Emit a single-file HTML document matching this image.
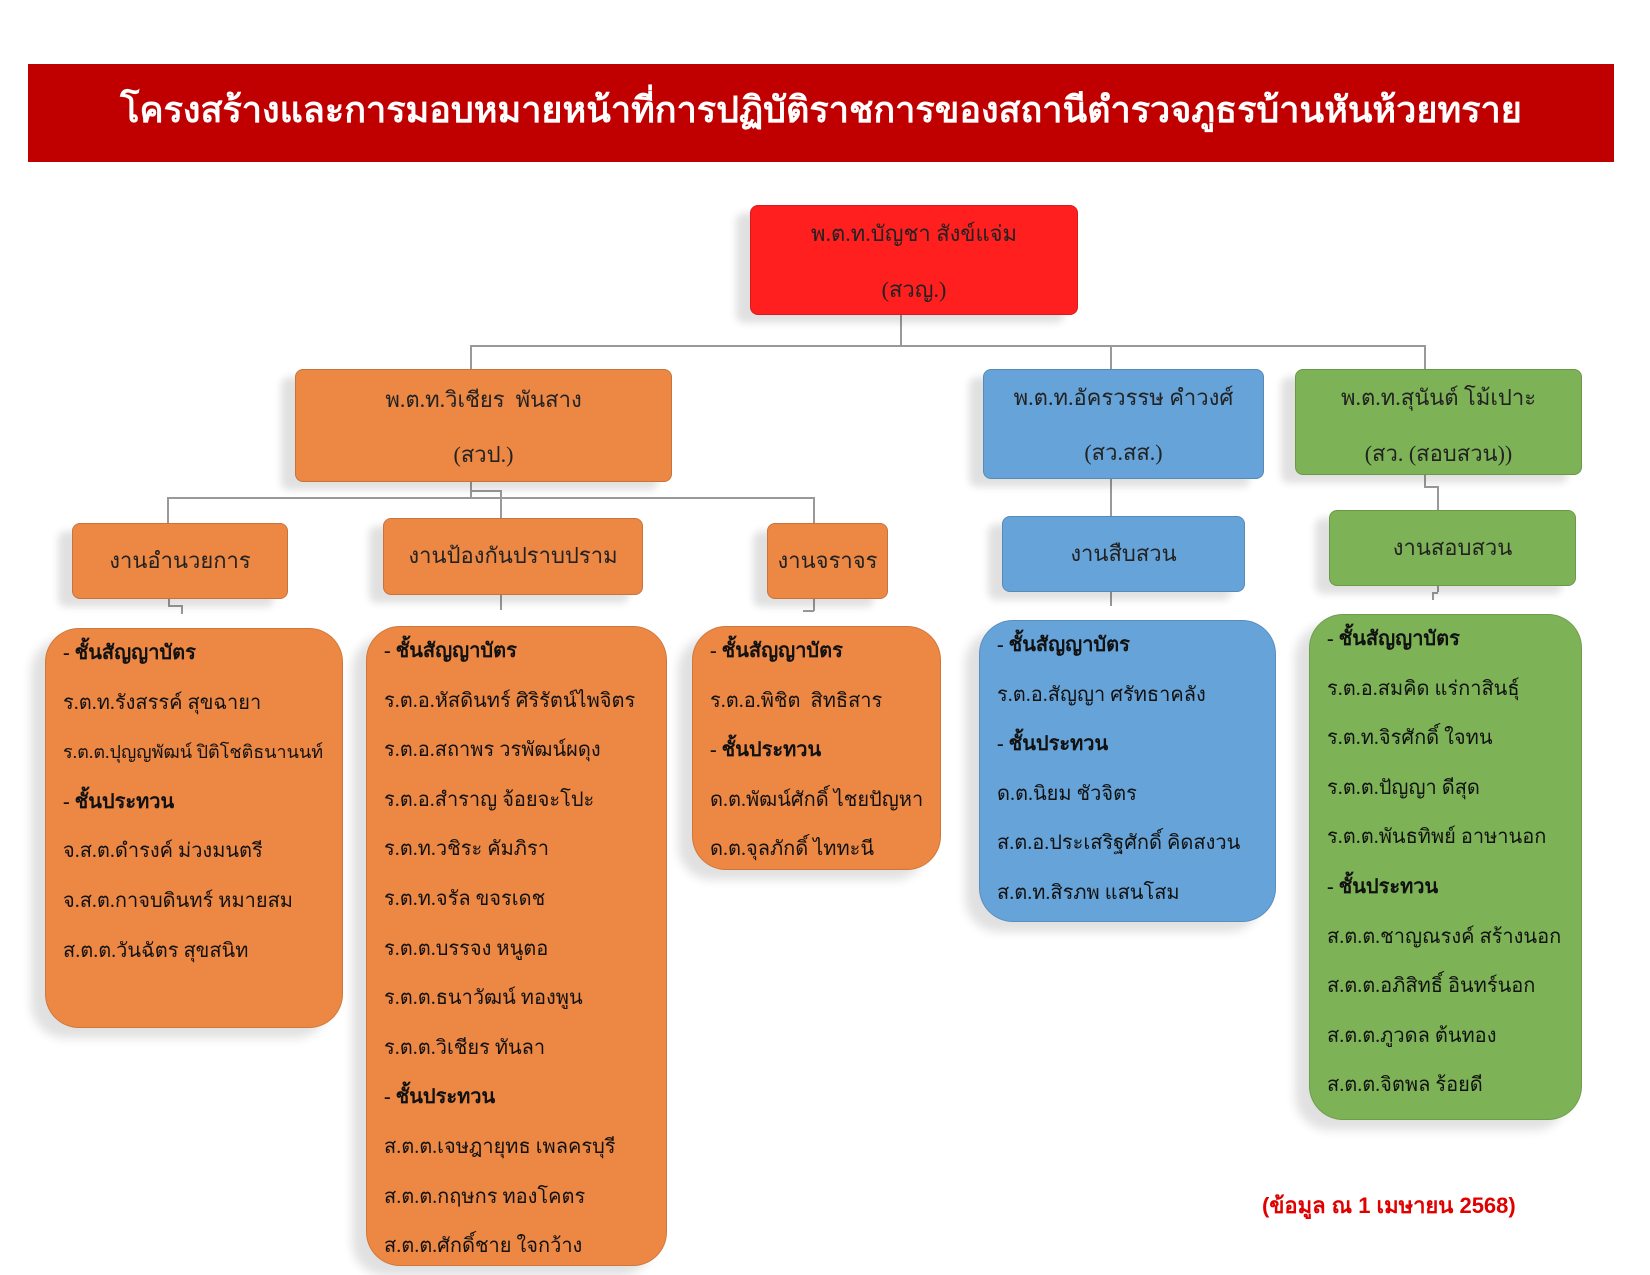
<!DOCTYPE html>
<html><head><meta charset="utf-8"><style>
body{margin:0;width:1650px;height:1275px;background:#fff;position:relative;overflow:hidden;font-family:"Liberation Serif",serif;}
.a{position:absolute;box-sizing:border-box;}
.title{left:28px;top:64px;width:1586px;height:98px;background:#c00000;color:#fff;font-family:"Liberation Sans",sans-serif;font-weight:bold;font-size:36px;text-align:center;line-height:92px;}
.bx{border:1.5px solid rgba(0,0,0,.15);border-radius:8px;text-align:center;color:#222;font-size:22px;box-shadow:-14px 8px 8px rgba(0,0,0,.12);}
.or{background:#ec8844;}
.bl{background:#66a3d8;}
.gr{background:#7db356;}
.list{border-radius:34px;font-size:20px;color:#111;padding-left:17px;line-height:49.6px;box-shadow:-14px 10px 10px rgba(0,0,0,.12);border:1.5px solid rgba(0,0,0,.12);white-space:nowrap;}
.list b{font-weight:bold;}
.h{position:absolute;background:#999;}
</style></head><body>
<div class="a title">โครงสร้างและการมอบหมายหน้าที่การปฏิบัติราชการของสถานีตำรวจภูธรบ้านหันห้วยทราย</div>

<div class="h" style="left:900px;top:300px;width:1.5px;height:45px"></div>
<div class="h" style="left:470px;top:345px;width:955px;height:1.5px"></div>
<div class="h" style="left:470px;top:345px;width:1.5px;height:25px"></div>
<div class="h" style="left:1110px;top:345px;width:1.5px;height:25px"></div>
<div class="h" style="left:1424px;top:345px;width:1.5px;height:25px"></div>
<div class="h" style="left:470px;top:482px;width:1.5px;height:15px"></div>
<div class="h" style="left:167px;top:497px;width:647px;height:1.5px"></div>
<div class="h" style="left:167px;top:497px;width:1.5px;height:26px"></div>
<div class="h" style="left:500px;top:490px;width:1.5px;height:28px"></div>
<div class="h" style="left:470px;top:490px;width:30px;height:1.5px"></div>
<div class="h" style="left:813px;top:497px;width:1.5px;height:26px"></div>
<div class="h" style="left:1110px;top:479px;width:1.5px;height:37px"></div>
<div class="h" style="left:1424px;top:475px;width:1.5px;height:12px"></div>
<div class="h" style="left:1424px;top:486px;width:14px;height:1.5px"></div>
<div class="h" style="left:1437px;top:486px;width:1.5px;height:24px"></div>
<div class="h" style="left:168px;top:599px;width:1.5px;height:6px"></div><div class="h" style="left:168px;top:605px;width:14px;height:1.5px"></div><div class="h" style="left:181px;top:605px;width:1.5px;height:9px"></div>
<div class="h" style="left:500px;top:595px;width:1.5px;height:15px"></div>
<div class="h" style="left:813px;top:599px;width:1.5px;height:12px"></div><div class="h" style="left:803px;top:610px;width:11px;height:1.5px"></div>
<div class="h" style="left:1110px;top:592px;width:1.5px;height:14px"></div>
<div class="h" style="left:1437px;top:586px;width:1.5px;height:6px"></div><div class="h" style="left:1432px;top:592px;width:6px;height:1.5px"></div><div class="h" style="left:1432px;top:592px;width:1.5px;height:8px"></div>

<div class="a bx" style="left:750px;top:205px;width:328px;height:110px;background:#ff1f1f;line-height:56px;">พ.ต.ท.บัญชา สังข์แจ่ม<br>(สวญ.)</div>
<div class="a bx or" style="left:295px;top:369px;width:377px;height:113px;line-height:55px;padding-top:2px">พ.ต.ท.วิเชียร&nbsp; พันสาง<br>(สวป.)</div>
<div class="a bx bl" style="left:983px;top:369px;width:281px;height:110px;line-height:55px">พ.ต.ท.อัครวรรษ คำวงศ์<br>(สว.สส.)</div>
<div class="a bx gr" style="left:1295px;top:369px;width:287px;height:106px;line-height:56px;">พ.ต.ท.สุนันต์ โม้เปาะ<br>(สว. (สอบสวน))</div>

<div class="a bx or" style="left:72px;top:523px;width:216px;height:76px;line-height:74px">งานอำนวยการ</div>
<div class="a bx or" style="left:383px;top:518px;width:260px;height:77px;line-height:74px">งานป้องกันปราบปราม</div>
<div class="a bx or" style="left:767px;top:523px;width:121px;height:76px;line-height:74px">งานจราจร</div>
<div class="a bx bl" style="left:1002px;top:516px;width:243px;height:76px;line-height:74px">งานสืบสวน</div>
<div class="a bx gr" style="left:1329px;top:510px;width:247px;height:76px;line-height:74px">งานสอบสวน</div>

<div class="a list or" style="left:45px;top:628px;width:298px;height:400px;">
<b>- ชั้นสัญญาบัตร</b><br>ร.ต.ท.รังสรรค์ สุขฉายา<br><span style="font-size:18px">ร.ต.ต.ปุญญพัฒน์ ปิติโชติธนานนท์</span><br><b>- ชั้นประทวน</b><br>จ.ส.ต.ดำรงค์ ม่วงมนตรี<br>จ.ส.ต.กาจบดินทร์ หมายสม<br>ส.ต.ต.วันฉัตร สุขสนิท</div>
<div class="a list or" style="left:366px;top:626px;width:301px;height:640px">
<b>- ชั้นสัญญาบัตร</b><br>ร.ต.อ.หัสดินทร์ ศิริรัตน์ไพจิตร<br>ร.ต.อ.สถาพร วรพัฒน์ผดุง<br>ร.ต.อ.สำราญ จ้อยจะโปะ<br>ร.ต.ท.วชิระ คัมภิรา<br>ร.ต.ท.จรัล ขจรเดช<br>ร.ต.ต.บรรจง หนูตอ<br>ร.ต.ต.ธนาวัฒน์ ทองพูน<br>ร.ต.ต.วิเชียร ทันลา<br><b>- ชั้นประทวน</b><br>ส.ต.ต.เจษฎายุทธ เพลครบุรี<br>ส.ต.ต.กฤษกร ทองโคตร<br>ส.ต.ต.ศักดิ์ชาย ใจกว้าง</div>
<div class="a list or" style="left:692px;top:626px;width:249px;height:244px">
<b>- ชั้นสัญญาบัตร</b><br>ร.ต.อ.พิชิต&nbsp; สิทธิสาร<br><b>- ชั้นประทวน</b><br>ด.ต.พัฒน์ศักดิ์ ไชยปัญหา<br>ด.ต.จุลภักดิ์ ไททะนี</div>
<div class="a list bl" style="left:979px;top:620px;width:297px;height:302px">
<b>- ชั้นสัญญาบัตร</b><br>ร.ต.อ.สัญญา ศรัทธาคลัง<br><b>- ชั้นประทวน</b><br>ด.ต.นิยม ชัวจิตร<br>ส.ต.อ.ประเสริฐศักดิ์ คิดสงวน<br>ส.ต.ท.สิรภพ แสนโสม</div>
<div class="a list gr" style="left:1309px;top:614px;width:273px;height:506px">
<b>- ชั้นสัญญาบัตร</b><br>ร.ต.อ.สมคิด แร่กาสินธุ์<br>ร.ต.ท.จิรศักดิ์ ใจทน<br>ร.ต.ต.ปัญญา ดีสุด<br>ร.ต.ต.พันธทิพย์ อาษานอก<br><b>- ชั้นประทวน</b><br>ส.ต.ต.ชาญณรงค์ สร้างนอก<br>ส.ต.ต.อภิสิทธิ์ อินทร์นอก<br>ส.ต.ต.ภูวดล ต้นทอง<br>ส.ต.ต.จิตพล ร้อยดี</div>

<div class="a" style="left:1262px;top:1188px;font-family:'Liberation Sans',sans-serif;font-size:22px;font-weight:bold;color:#e00000;white-space:nowrap">(ข้อมูล ณ 1 เมษายน 2568)</div>
</body></html>
